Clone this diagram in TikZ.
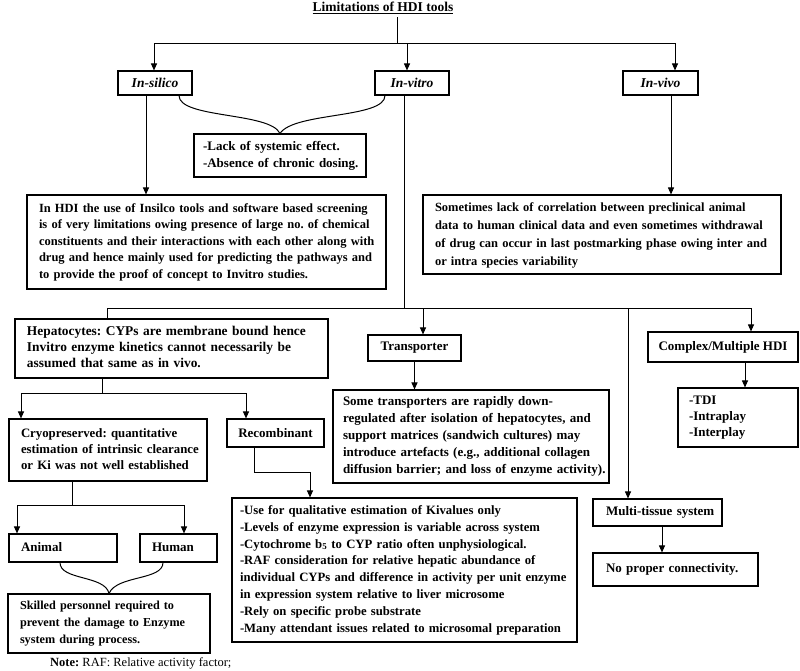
\documentclass[tikz,border=0pt]{standalone}
\usepackage{fontspec}
\setmainfont{Liberation Serif}
\usetikzlibrary{arrows.meta}
\newcommand{\boxlines}[1]{\begin{tabular}{@{}l@{}}#1\end{tabular}}
\frenchspacing
\begin{document}
\begin{tikzpicture}[x=1pt,y=-1pt,
  box/.style={draw, line width=1.1pt, inner xsep=0pt, inner ysep=0pt,
    font=\fontsize{13}{16.5}\selectfont\bfseries\frenchspacing, align=left},
  cbox/.style={box, align=center},
  ibox/.style={cbox, font=\fontsize{13.5}{15}\selectfont\bfseries\itshape},
  arr/.style={line width=1pt, -{Triangle[length=7pt,width=6pt]}},
  ln/.style={line width=1pt},
]
\useasboundingbox (0,0) rectangle (800,671);

% title
\node[font=\fontsize{13.5}{15}\selectfont\bfseries] (title) at (383,8) {\underline{Limitations of HDI tools}};

% level 1
\node[ibox, minimum width=74pt, minimum height=24pt] (insilico) at (155,83) {In-silico};
\node[ibox, minimum width=74pt, minimum height=24pt] (invitro) at (412,83) {In-vitro};
\node[ibox, minimum width=75pt, minimum height=24pt] (invivo) at (660.5,83) {In-vivo};

\node[box, minimum width=172pt, minimum height=43pt, text width=154pt] (lack) at (280,155.5)
  {\boxlines{-Lack of systemic effect.\\-Absence of chronic dosing.}};

\node[box, minimum width=359pt, minimum height=94pt, text width=335pt, font=\fontsize{12.5}{16.5}\selectfont\bfseries] (istext) at (206.5,242)
  {\boxlines{In HDI the use of Insilco tools and software based screening\\
  is of very limitations owing presence of large no. of chemical\\
  constituents and their interactions with each other along with\\
  drug and hence mainly used for predicting the pathways and\\
  to provide the proof of concept to Invitro studies.}};

\node[box, minimum width=358pt, minimum height=79pt, text width=334pt, font=\fontsize{12.5}{18}\selectfont\bfseries] (ivtext) at (602,234.5)
  {\boxlines{Sometimes lack of correlation between preclinical animal\\
  data to human clinical data and even sometimes withdrawal\\
  of drug can occur in last postmarking phase owing inter and\\
  or intra species variability}};

% level 2
\node[box, minimum width=313pt, minimum height=59pt, text width=289pt, font=\fontsize{13.4}{16}\selectfont\bfseries] (hep) at (171.5,348.5)
  {\boxlines{Hepatocytes: CYPs are membrane bound hence\\
  Invitro enzyme kinetics cannot necessarily be\\
  assumed that same as in vivo.}};

\node[cbox, minimum width=93pt, minimum height=26pt] (trans) at (414.5,348) {Transporter};

\node[box, minimum width=276pt, minimum height=93pt, text width=256pt, font=\fontsize{13}{17}\selectfont\bfseries] (transtext) at (471,436.5)
  {\boxlines{Some transporters are rapidly down-\\
  regulated after isolation of hepatocytes, and\\
  support matrices (sandwich cultures) may\\
  introduce artefacts (e.g., additional collagen\\
  diffusion barrier; and loss of enzyme activity).}};

\node[cbox, minimum width=150pt, minimum height=30pt] (complex) at (723,347) {Complex/Multiple HDI};

\node[box, minimum width=120pt, minimum height=59pt, text width=98pt, font=\fontsize{13}{16}\selectfont\bfseries] (tdi) at (738,417.5)
  {\boxlines{-TDI\\-Intraplay\\-Interplay}};

% level 3
\node[box, minimum width=198pt, minimum height=62pt, text width=174pt, font=\fontsize{12.8}{16}\selectfont\bfseries] (cryo) at (108,450)
  {\boxlines{Cryopreserved: quantitative\\
  estimation of intrinsic clearance\\
  or Ki was not well established}};

\node[cbox, minimum width=97pt, minimum height=28pt] (recomb) at (275.5,433) {Recombinant};

\node[box, minimum width=345pt, minimum height=144pt, text width=329pt, font=\fontsize{12.7}{16.8}\selectfont\bfseries] (rectext) at (404.5,570)
  {\boxlines{-Use for qualitative estimation of Kivalues only\\
  -Levels of enzyme expression is variable across system\\
  -Cytochrome b\textsubscript{5} to CYP ratio often unphysiological.\\
  -RAF consideration for relative hepatic abundance of\\
  individual CYPs and difference in activity per unit enzyme\\
  in expression system relative to liver microsome\\
  -Rely on specific probe substrate\\
  -Many attendant issues related to microsomal preparation}};

\node[box, minimum width=129pt, minimum height=27pt, text width=103pt] (multi) at (657.5,512.5)
  {\boxlines{Multi-tissue system}};

\node[box, minimum width=165pt, minimum height=33pt, text width=139pt] (noprop) at (675.5,569.5)
  {\boxlines{No proper connectivity.}};

\node[box, minimum width=108pt, minimum height=28pt, text width=84pt] (animal) at (63,548) {\boxlines{Animal}};
\node[box, minimum width=77pt, minimum height=28pt, text width=53pt] (human) at (178.5,548) {\boxlines{Human}};

\node[box, minimum width=202pt, minimum height=59pt, text width=178pt, font=\fontsize{12.2}{17}\selectfont\bfseries] (skilled) at (109,623.5)
  {\boxlines{Skilled personnel required to\\
  prevent the damage to Enzyme\\
  system during process.}};

\node[anchor=west, inner sep=0pt, font=\fontsize{12.5}{14}\selectfont] (note) at (50,663)
  {\textbf{Note:} RAF: Relative activity factor;};

% junction coordinates
\coordinate (tj) at (397,44);
\coordinate (vj) at (404,308);
\coordinate (hj) at (102,393);
\coordinate (cj) at (72,505);

% top connectors
\draw[ln] (title.south -| tj) -- (tj);
\draw[arr] (tj) -| ([xshift=-1pt]insilico.north);
\draw[arr] (tj) -| ([xshift=14.5pt]invivo.north);
\draw[arr] ([xshift=-5pt]invitro.north |- tj) -- ([xshift=-5pt]invitro.north);

% brace from in-silico and in-vitro
\draw[ln] ([xshift=24pt]insilico.south) .. controls +(0,23) and (270,112) .. (lack.north);
\draw[ln] ([xshift=-27pt]invitro.south) .. controls +(0,23) and (294,112) .. (lack.north);

% in-silico / in-vivo
\draw[arr] ([xshift=-9pt]insilico.south) -- ([xshift=-9pt]insilico.south |- istext.north);
\draw[arr] ([xshift=10.5pt]invivo.south) -- ([xshift=10.5pt]invivo.south |- ivtext.north);

% in-vitro branch
\draw[ln] ([xshift=-8pt]invitro.south) -- (vj);
\draw[ln] (vj) -| ([xshift=-64.5pt]hep.north);
\draw[arr] (vj) -| ([xshift=28pt]complex.north);
\draw[arr] ([xshift=8.5pt]trans.north |- vj) -- ([xshift=8.5pt]trans.north);
\draw[arr] ([xshift=-29.5pt]multi.north |- vj) -- ([xshift=-29.5pt]multi.north);

\draw[arr] (trans.south) -- (trans.south |- transtext.north);
\draw[arr] ([xshift=22pt]complex.south) -- ([xshift=22pt]complex.south |- tdi.north);
\draw[arr] ([xshift=4.5pt]multi.south) -- ([xshift=4.5pt]multi.south |- noprop.north);

% hepatocytes branch
\draw[ln] (hep.south -| hj) -- (hj);
\draw[arr] (hj) -| ([xshift=-87pt]cryo.north);
\draw[arr] (hj) -| ([xshift=-29.5pt]recomb.north);

\draw[arr] ([xshift=-21.5pt]recomb.south) -- ++(0,25) -| ([xshift=-94.5pt]rectext.north);

% cryopreserved branch
\draw[ln] (cryo.south -| cj) -- (cj);
\draw[arr] (cj) -| ([xshift=-46pt]animal.north);
\draw[arr] (cj) -| ([xshift=5.5pt]human.north);

% brace animal/human
\draw[ln] ([xshift=-3pt]animal.south) .. controls +(0,18) and (105,575) .. (skilled.north);
\draw[ln] ([xshift=-15.5pt]human.south) .. controls +(0,18) and (117,575) .. (skilled.north);
\end{tikzpicture}
\end{document}
